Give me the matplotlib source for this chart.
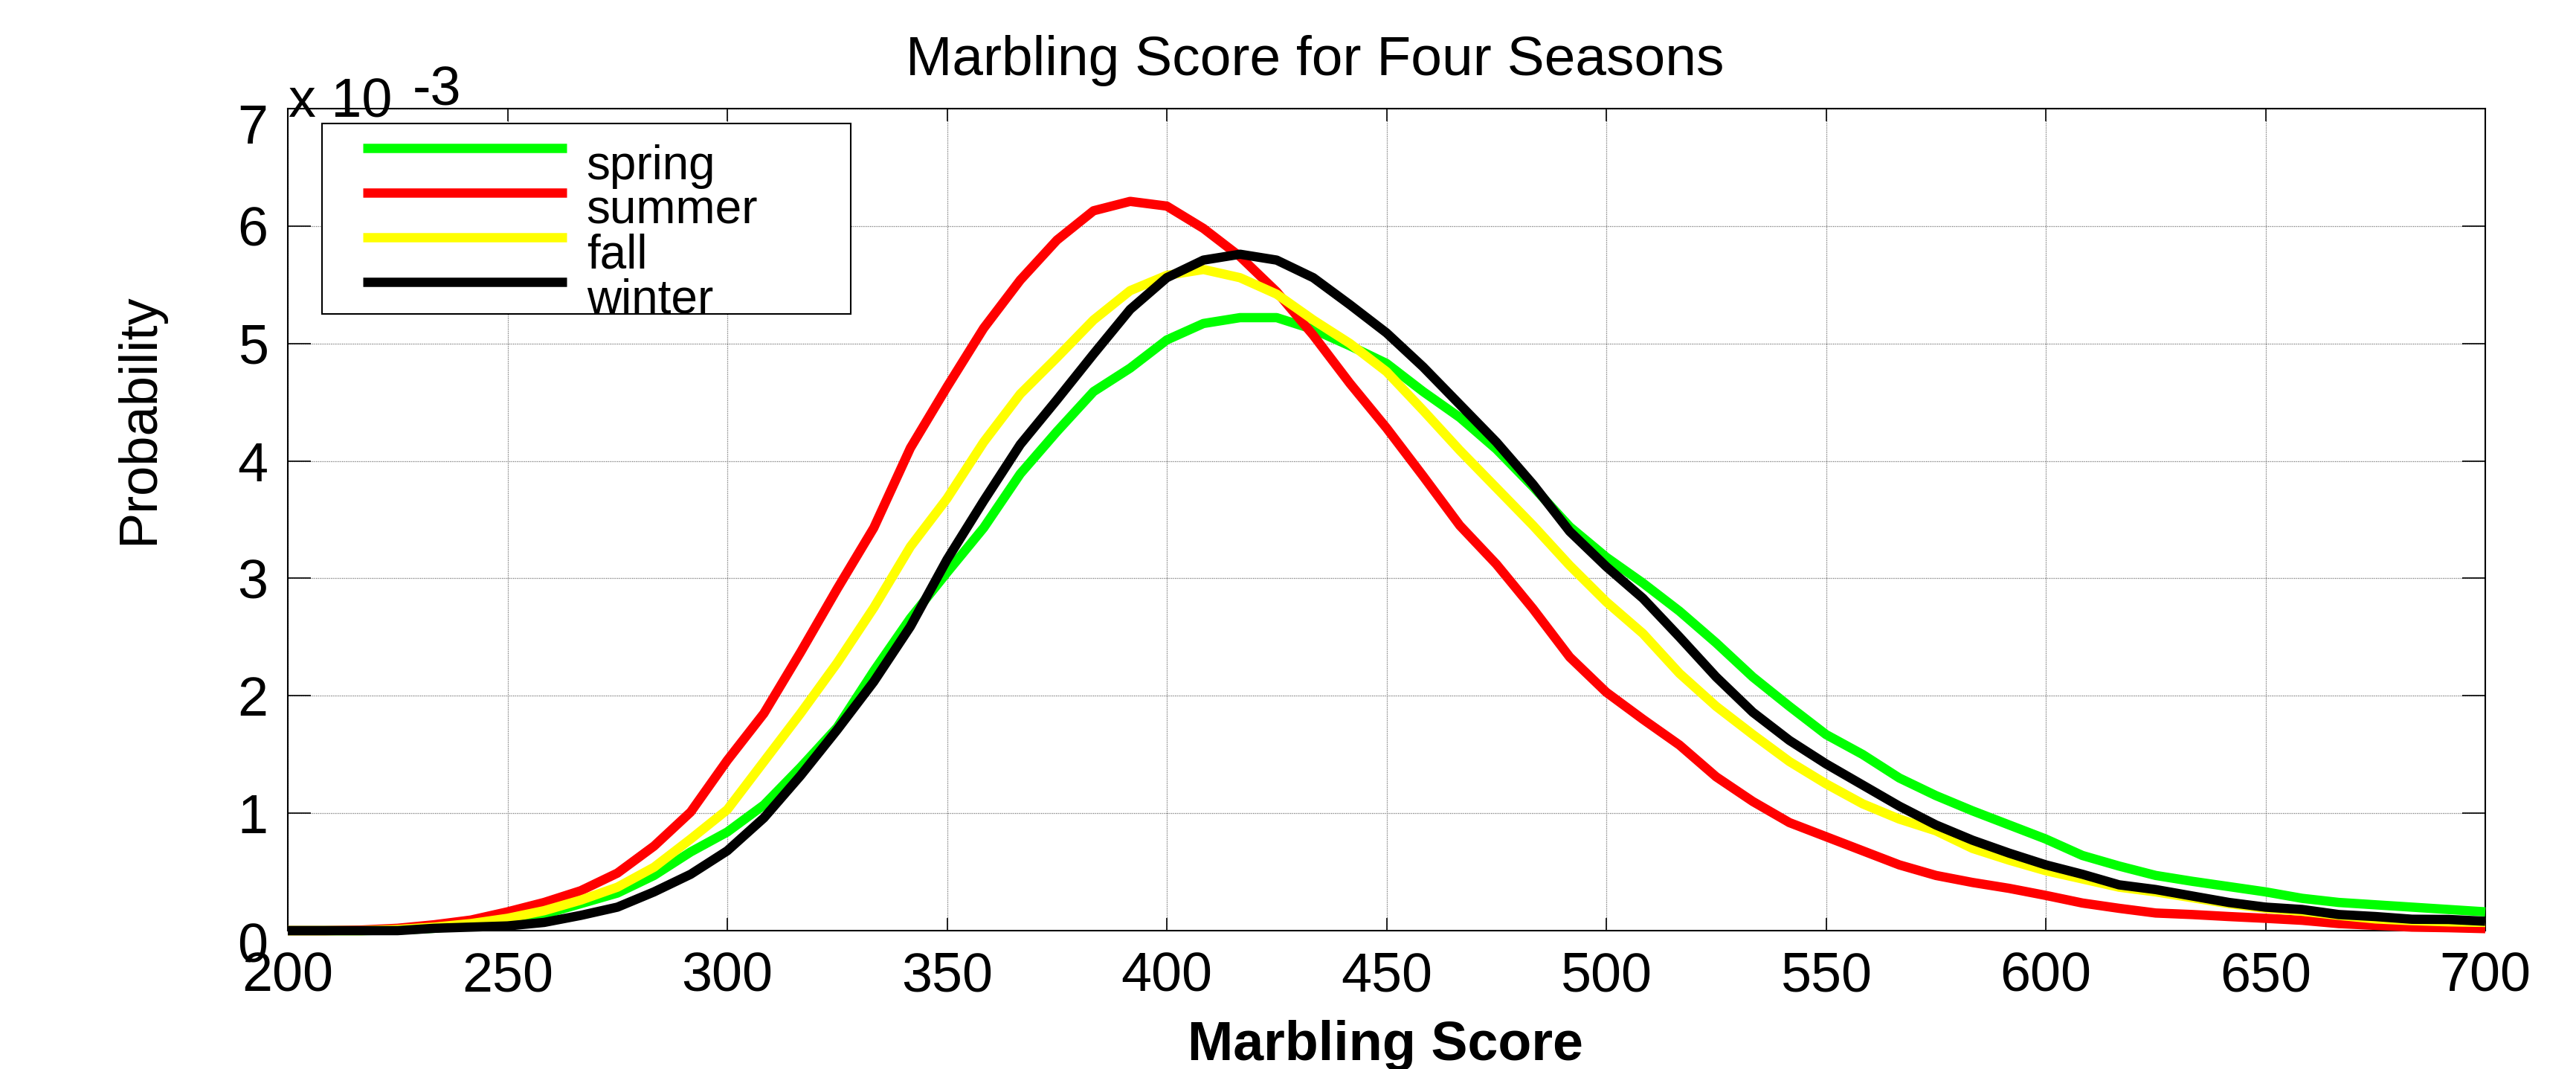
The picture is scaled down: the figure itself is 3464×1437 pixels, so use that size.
import numpy as np
import matplotlib
matplotlib.use("Agg")
import matplotlib.pyplot as plt
from matplotlib.lines import Line2D
from matplotlib.legend_handler import HandlerBase
from matplotlib.transforms import ScaledTranslation

plt.rcParams['font.family'] = ['Liberation Sans', 'DejaVu Sans']

# ---- data (probability in units of 1e-3) ----
marbling_score = np.linspace(200, 700, 61)

spring = [0.0, 0.0, 0.0, 0.005, 0.02, 0.05, 0.09, 0.14, 0.23, 0.32,
          0.47, 0.67, 0.84, 1.07, 1.39, 1.73, 2.21, 2.66, 3.05, 3.43,
          3.89, 4.25, 4.59, 4.79, 5.03, 5.17, 5.22, 5.22, 5.12, 4.98,
          4.83, 4.59, 4.37, 4.10, 3.78, 3.44, 3.18, 2.96, 2.72, 2.45,
          2.16, 1.91, 1.67, 1.50, 1.30, 1.15, 1.02, 0.90, 0.78, 0.64,
          0.55, 0.47, 0.42, 0.375, 0.33, 0.275, 0.24, 0.22, 0.20, 0.18,
          0.16]

summer = [0.0, 0.0, 0.005, 0.02, 0.05, 0.09, 0.16, 0.24, 0.34, 0.49,
          0.72, 1.01, 1.45, 1.85, 2.37, 2.91, 3.43, 4.11, 4.63, 5.13,
          5.54, 5.88, 6.13, 6.21, 6.17, 5.98, 5.74, 5.44, 5.07, 4.66,
          4.28, 3.87, 3.45, 3.12, 2.74, 2.33, 2.03, 1.80, 1.58, 1.31,
          1.10, 0.92, 0.80, 0.68, 0.56, 0.47, 0.41, 0.36, 0.30, 0.235,
          0.19, 0.15, 0.137, 0.12, 0.105, 0.088, 0.06, 0.045, 0.03, 0.025,
          0.017]

fall = [0.0, 0.0, 0.0, 0.01, 0.03, 0.06, 0.105, 0.17, 0.26, 0.37,
        0.54, 0.78, 1.03, 1.44, 1.85, 2.28, 2.75, 3.27, 3.68, 4.16,
        4.57, 4.88, 5.20, 5.45, 5.58, 5.63, 5.56, 5.42, 5.20, 5.00,
        4.76, 4.43, 4.09, 3.77, 3.45, 3.11, 2.80, 2.53, 2.19, 1.91,
        1.67, 1.44, 1.25, 1.08, 0.95, 0.85, 0.70, 0.60, 0.51, 0.44,
        0.37, 0.33, 0.28, 0.23, 0.19, 0.165, 0.13, 0.10, 0.085, 0.075,
        0.07]

winter = [0.0, 0.0, 0.0, 0.0, 0.02, 0.03, 0.04, 0.07, 0.13, 0.20,
          0.33, 0.48, 0.68, 0.96, 1.32, 1.71, 2.12, 2.59, 3.16, 3.66,
          4.14, 4.52, 4.91, 5.29, 5.56, 5.71, 5.76, 5.71, 5.56, 5.33,
          5.09, 4.80, 4.48, 4.16, 3.80, 3.40, 3.10, 2.83, 2.50, 2.16,
          1.86, 1.62, 1.42, 1.24, 1.06, 0.90, 0.77, 0.66, 0.56, 0.48,
          0.39, 0.35, 0.295, 0.24, 0.20, 0.18, 0.137, 0.12, 0.097, 0.095,
          0.08]

series_names = ["spring", "summer", "fall", "winter"]
series_colors = ["#00ff00", "#ff0000", "#ffff00", "#000000"]
x_ticks = [200, 250, 300, 350, 400, 450, 500, 550, 600, 650, 700]
y_ticks = [0, 1, 2, 3, 4, 5, 6, 7]


class OffsetLineHandler(HandlerBase):
    """Legend line that starts part-way into the handle box."""
    def __init__(self, start_frac=0.0, **kw):
        super().__init__(**kw)
        self.start_frac = start_frac

    def create_artists(self, legend, orig_handle, xdescent, ydescent,
                       width, height, fontsize, trans):
        x0 = -xdescent + width * self.start_frac
        x1 = -xdescent + width
        y = (height - ydescent) / 2
        ln = Line2D([x0, x1], [y, y], color=orig_handle.get_color(),
                    lw=orig_handle.get_linewidth(), solid_capstyle='butt')
        ln.set_transform(trans)
        return [ln]


# ---- figure ----
W, H = 3464, 1437
fig = plt.figure(figsize=(W / 100, H / 100), dpi=100)
left, right, top, bottom = 387, 3342, 146, 1251
ax = fig.add_axes([left / W, 1 - bottom / H, (right - left) / W, (bottom - top) / H])

lines = []
for vals, name, col in zip([spring, summer, fall, winter], series_names, series_colors):
    ln, = ax.plot(marbling_score, vals, color=col, lw=9, label=name,
                  solid_capstyle='butt', clip_on=False, zorder=3)
    lines.append(ln)

ax.set_xlim(200, 700)
ax.set_ylim(0, 7)
ax.set_xticks(x_ticks)
ax.set_yticks(y_ticks)
ax.set_xticklabels([str(v) for v in x_ticks])
ax.set_yticklabels([str(v) for v in y_ticks])

ax.grid(True, color='#7a7a7a', linestyle=(0, (1, 1)), linewidth=0.9, zorder=0)
ax.set_axisbelow(True)
for s in ax.spines.values():
    s.set_linewidth(1.5)
    s.set_color('black')

ax.tick_params(axis='both', which='major', direction='in', labelsize=53,
               width=1.2, top=True, right=True)
ax.tick_params(axis='x', length=12, pad=20)
ax.tick_params(axis='y', length=22, pad=19)

# end labels of the y axis sit a little lower in the reference
for lab, dy in zip(ax.get_yticklabels(), [-16, 0, 0, 0, 0, 0, 0, -20]):
    if dy:
        lab.set_transform(lab.get_transform() +
                          ScaledTranslation(0, dy / 100, fig.dpi_scale_trans))

handler = OffsetLineHandler(start_frac=0.146)
leg = ax.legend(handles=lines, labels=series_names,
                handler_map={Line2D: handler},
                loc='upper left', bbox_to_anchor=(0.0156, 0.5, 0.2406, 0.482),
                mode='expand', borderaxespad=0,
                fontsize=46, frameon=True, fancybox=False, framealpha=1,
                edgecolor='black', handlelength=5.02, handletextpad=0.42,
                labelspacing=0.0, borderpad=0.125)
leg.get_frame().set_linewidth(1.5)
leg.set_zorder(5)
# legend texts sit slightly below their lines in the reference
for t in leg.get_texts():
    t.set_transform(t.get_transform() +
                    ScaledTranslation(0, -20 / 100, fig.dpi_scale_trans))

# title, labels and exponent
fig.text(1768 / W, 1 - 82 / H, "Marbling Score for Four Seasons", fontsize=54,
         ha='center', va='center')
fig.text(1863 / W, 1 - 1405 / H, "Marbling Score", fontsize=53, fontweight='bold',
         ha='center', va='center')
fig.text(188 / W, 1 - 563 / H, "Probability", fontsize=52, rotation=90,
         ha='center', va='center')
fig.text(388 / W, 1 - 157 / H, "x 10", fontsize=53, ha='left', va='baseline')
fig.text(555 / W, 1 - 142 / H, "-3", fontsize=53, ha='left', va='baseline')

fig.savefig("out.png", dpi=100, facecolor='white')
